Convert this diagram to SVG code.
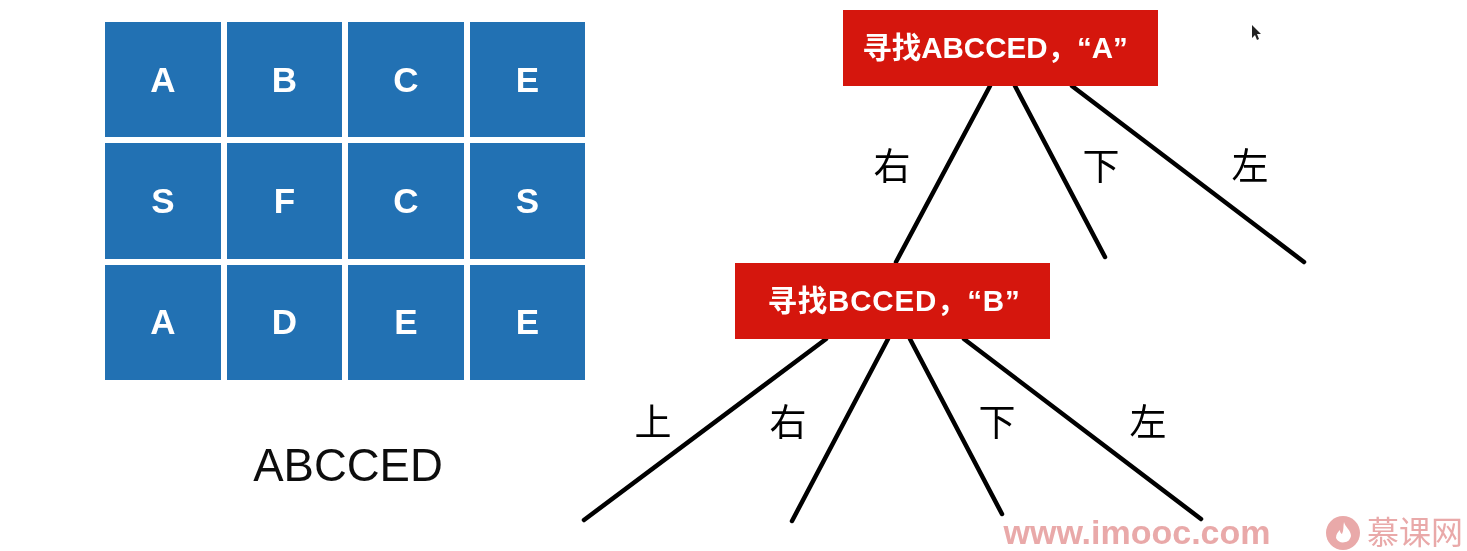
<svg xmlns="http://www.w3.org/2000/svg" width="1467" height="551" viewBox="0 0 1467 551">
<style>
.c{fill:#2471b3}
.l{font:700 35px "Liberation Sans","Noto Sans",sans-serif;fill:#fff;text-anchor:middle}
.r{fill:#d5190f}
.t{font:700 29.500px "Liberation Sans","Noto Sans CJK SC",sans-serif;fill:#fff;text-anchor:middle}
.e{stroke:#000;stroke-width:4.500;fill:none;stroke-linecap:round}
.d{font:37px "Noto Sans CJK SC",sans-serif;fill:#000;text-anchor:middle}
.w{fill:#e9a9a9}
</style>
<defs><filter id="soft" x="0" y="0" width="100%" height="100%"><feGaussianBlur stdDeviation="0.600"/></filter></defs>
<rect width="1467" height="551" fill="#fff"/>
<g filter="url(#soft)">
<g id="cell-0-0"><rect class="c" x="105" y="22" width="116" height="115"/><text class="l" x="163" y="92">A</text></g>
<g id="cell-0-1"><rect class="c" x="227" y="22" width="115" height="115"/><text class="l" x="284.500" y="92">B</text></g>
<g id="cell-0-2"><rect class="c" x="348" y="22" width="116" height="115"/><text class="l" x="406" y="92">C</text></g>
<g id="cell-0-3"><rect class="c" x="470" y="22" width="115" height="115"/><text class="l" x="527.500" y="92">E</text></g>
<g id="cell-1-0"><rect class="c" x="105" y="143" width="116" height="116"/><text class="l" x="163" y="213">S</text></g>
<g id="cell-1-1"><rect class="c" x="227" y="143" width="115" height="116"/><text class="l" x="284.500" y="213">F</text></g>
<g id="cell-1-2"><rect class="c" x="348" y="143" width="116" height="116"/><text class="l" x="406" y="213">C</text></g>
<g id="cell-1-3"><rect class="c" x="470" y="143" width="115" height="116"/><text class="l" x="527.500" y="213">S</text></g>
<g id="cell-2-0"><rect class="c" x="105" y="265" width="116" height="115"/><text class="l" x="163" y="334">A</text></g>
<g id="cell-2-1"><rect class="c" x="227" y="265" width="115" height="115"/><text class="l" x="284.500" y="334">D</text></g>
<g id="cell-2-2"><rect class="c" x="348" y="265" width="116" height="115"/><text class="l" x="406" y="334">E</text></g>
<g id="cell-2-3"><rect class="c" x="470" y="265" width="115" height="115"/><text class="l" x="527.500" y="334">E</text></g>
<text x="348" y="481" font-family="'Liberation Sans',sans-serif" font-size="45.500" text-anchor="middle" fill="#111">ABCCED</text>
<g id="connectors">
<line class="e" x1="990" y1="86" x2="896" y2="262"/>
<line class="e" x1="1015" y1="86" x2="1105" y2="257"/>
<line class="e" x1="1072" y1="86" x2="1304" y2="262"/>
<line class="e" x1="826" y1="339" x2="584" y2="520"/>
<line class="e" x1="888" y1="339" x2="792" y2="521"/>
<line class="e" x1="910" y1="339" x2="1002" y2="514"/>
<line class="e" x1="964" y1="339" x2="1201" y2="519"/>
</g>
<g id="node-a"><rect class="r" x="843" y="10" width="315" height="76"/><text class="t" x="995" y="58">寻找ABCCED，“A”</text></g>
<g id="node-b"><rect class="r" x="735" y="263" width="315" height="76"/><text class="t" x="894" y="311" letter-spacing="0.800">寻找BCCED，“B”</text></g>
<text class="d" x="892" y="180">右</text>
<text class="d" x="1101" y="180">下</text>
<text class="d" x="1250" y="180">左</text>
<text class="d" x="653" y="436">上</text>
<text class="d" x="788" y="436">右</text>
<text class="d" x="997" y="436">下</text>
<text class="d" x="1148" y="436">左</text>
<text x="1137" y="544" font-family="'Liberation Sans',sans-serif" font-weight="700" font-size="34" text-anchor="middle" class="w">www.imooc.com</text>
<circle class="w" cx="1343" cy="533" r="17"/>
<path d="M1344 522c1 5 7 8 7 14a8 8 0 0 1-15 2c0-4 2-6 4-8 0 3 1 3 2 4 2-4 1-8 2-12z" fill="#fff"/>
<text x="1415" y="544" font-family="'Noto Sans CJK SC',sans-serif" font-size="32" text-anchor="middle" class="w">慕课网</text>
<path d="M1252 25v13l3-3 2 5 2-1-2-5h4z" fill="#222"/>
</g>
</svg>
